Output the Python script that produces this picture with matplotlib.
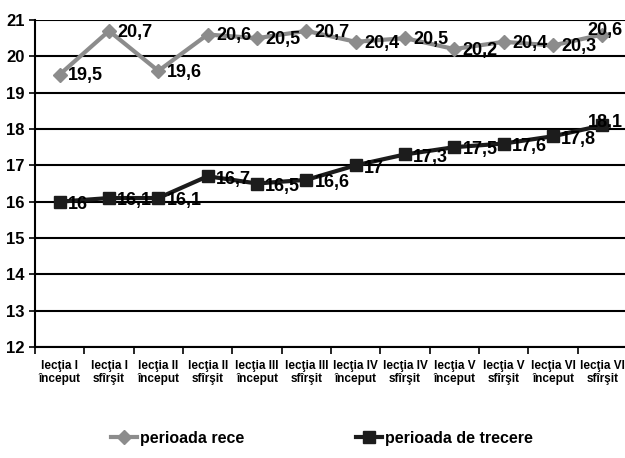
import matplotlib
matplotlib.use("Agg")
import matplotlib.pyplot as plt

# categories (lessons, start / end)
lessons = ["I", "I", "II", "II", "III", "III", "IV", "IV", "V", "V", "VI", "VI"]
phases = ["început", "sfîrşit"] * 6
labels = ["lecţia " + l + "\n" + p for l, p in zip(lessons, phases)]

perioada_rece = [19.5, 20.7, 19.6, 20.6, 20.5, 20.7, 20.4, 20.5, 20.2, 20.4, 20.3, 20.6]
perioada_trecere = [16, 16.1, 16.1, 16.7, 16.5, 16.6, 17, 17.3, 17.5, 17.6, 17.8, 18.1]

plt.rcParams['font.family'] = ['Liberation Sans Narrow', 'Liberation Sans', 'DejaVu Sans']
plt.rcParams['font.weight'] = 'bold'

fig = plt.figure(figsize=(6.25, 4.58), dpi=100)
ax = fig.add_axes([35 / 625, 1 - 347 / 458, 592 / 625, 327 / 458])

x = list(range(len(labels)))
ax.plot(x, perioada_rece, color="#8c8c8c", lw=3, marker="D", ms=7,
        label="perioada rece", zorder=3)
ax.plot(x, perioada_trecere, color="#1c1c1c", lw=3, marker="s", ms=8,
        label="perioada de trecere", zorder=3)


def fmt(v):
    return ("%g" % v).replace(".", ",")


for ys, dy in [(perioada_rece, 0), (perioada_trecere, -1)]:
    for xi, yi in zip(x, ys):
        off = (6, dy - 1)
        if xi == len(x) - 1:
            off = (-10.5, dy + 3)
        ax.annotate(fmt(yi), (xi, yi), xytext=off, textcoords="offset points",
                    ha="left", va="center", fontsize=13, fontweight="bold",
                    color="black", zorder=4)

ax.set_xlim(-0.5, len(labels) - 0.5)
ax.set_ylim(12, 21)
ax.set_yticks(range(12, 22))
ax.tick_params(axis="y", labelsize=12, length=4, width=1.2)
ax.grid(axis="y", color="black", lw=1.5)
ax.set_axisbelow(True)

ax.set_xticks([i + 0.5 for i in range(-1, len(labels))], minor=False)
ax.set_xticklabels([])
ax.set_xticks(x, minor=True)
ax.set_xticklabels(labels, minor=True, fontsize=8.5, fontweight="bold")
ax.tick_params(axis="x", which="minor", length=0, pad=9)
ax.tick_params(axis="x", which="major", length=5, width=1.2)

for s in ["top", "right"]:
    ax.spines[s].set_visible(False)
ax.spines["left"].set_linewidth(1.5)
ax.spines["bottom"].set_linewidth(1.5)

fig.legend(loc="lower center", ncol=2, frameon=False, fontsize=11.5,
           bbox_to_anchor=(0.515, -0.005), columnspacing=7, handlelength=1.6,
           handletextpad=0.2)

fig.savefig("out.png", dpi=100)
